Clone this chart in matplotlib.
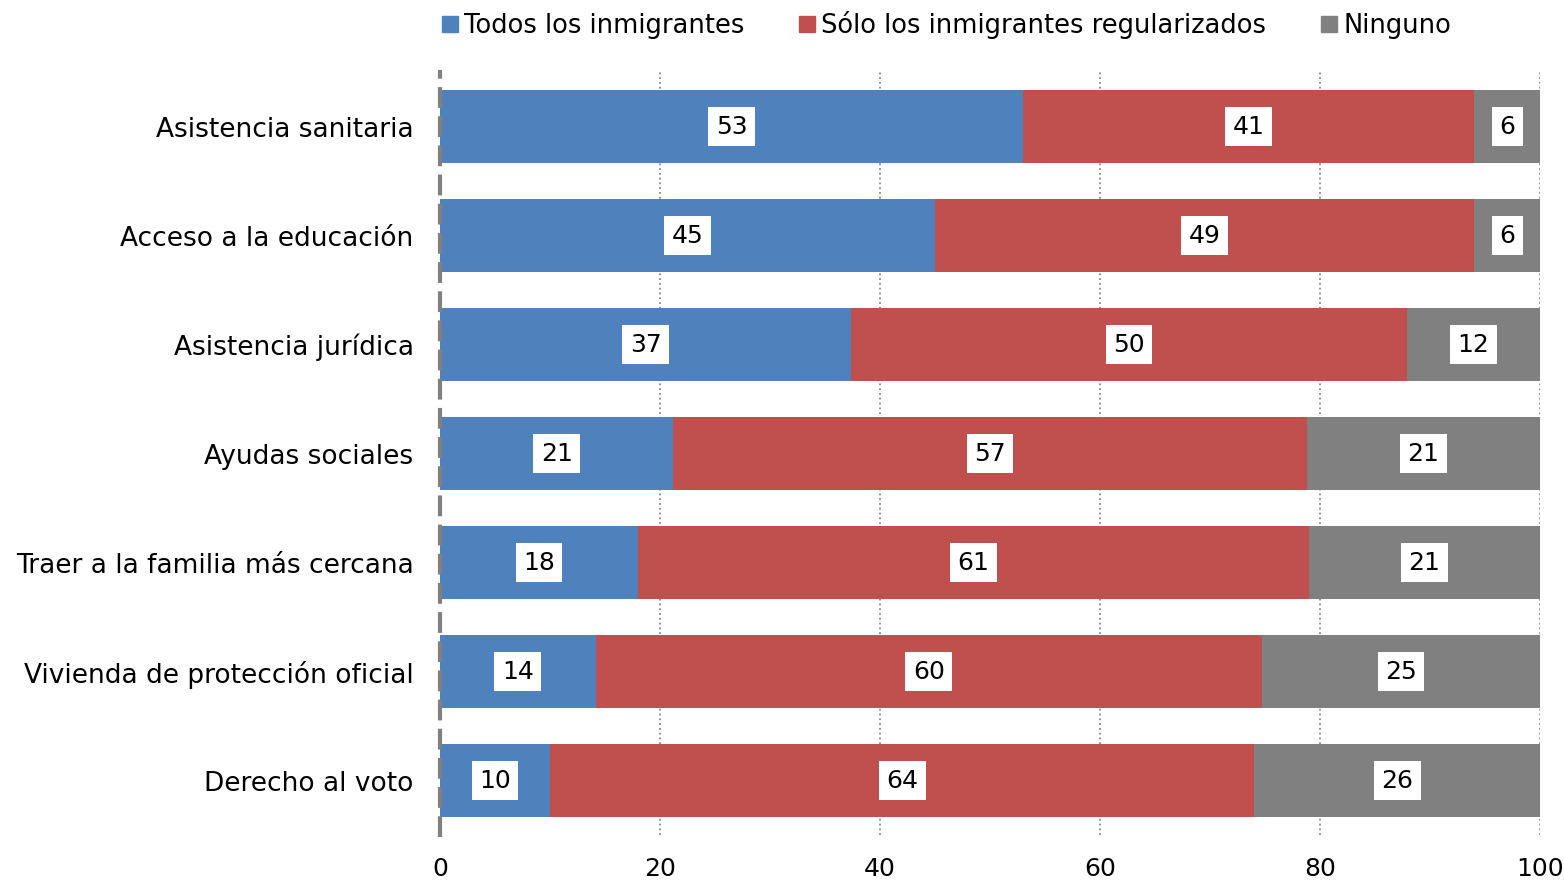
import matplotlib
matplotlib.use("Agg")
import matplotlib.pyplot as plt
import numpy as np
from matplotlib.lines import Line2D

categories = ["Asistencia sanitaria", "Acceso a la educación", "Asistencia jurídica",
              "Ayudas sociales", "Traer a la familia más cercana",
              "Vivienda de protección oficial", "Derecho al voto"]
todos = [53, 45, 37, 21, 18, 14, 10]
solo_reg = [41, 49, 50, 57, 61, 60, 64]
ninguno = [6, 6, 12, 21, 21, 25, 26]
series_names = ["Todos los inmigrantes", "Sólo los inmigrantes regularizados", "Ninguno"]
colors = ["#4F81BD", "#C0504D", "#808080"]
xticks = [0, 20, 40, 60, 80, 100]

plt.rcParams['font.family'] = ['DejaVu Sans']

fig = plt.figure(figsize=(15.64, 8.81), dpi=100)
ax = fig.add_axes([440/1564, 1-835/881, 1100/1564, (835-72)/881])

data = np.array([todos, solo_reg, ninguno], dtype=float)
totals = data.sum(axis=0)
pct = data / totals * 100
y = np.arange(len(categories))
left = np.zeros(len(categories))
for i in range(3):
    ax.barh(y, pct[i], left=left, height=0.67, color=colors[i], zorder=3)
    for j in range(len(categories)):
        ax.text(left[j] + pct[i][j]/2, y[j], str(int(data[i][j])), ha='center', va='center',
                fontsize=18, color='black', zorder=5,
                bbox=dict(boxstyle='square,pad=0.3', fc='white', ec='none'))
    left += pct[i]

ax.set_xlim(0, 100)
ax.set_ylim(len(categories)-0.5, -0.5)
ax.set_yticks(y)
ax.set_yticklabels(categories, fontsize=19)
ax.set_xticks(xticks)
ax.set_xticklabels([str(t) for t in xticks], fontsize=18)
ax.tick_params(axis='y', length=0, pad=19)
ax.tick_params(axis='x', length=0, pad=16)
for g in xticks[1:]:
    ax.axvline(g, color='#888888', linestyle=':', linewidth=1.3, zorder=1)
for s in ['top', 'right', 'bottom']:
    ax.spines[s].set_visible(False)
ax.spines['left'].set_color('#808080')
ax.spines['left'].set_linewidth(3)
ax.spines['left'].set_linestyle((0, (4, 3)))
ax.spines['left'].set_zorder(4)

handles = [Line2D([], [], marker='s', linestyle='none', markersize=12, color=c) for c in colors]
fig.legend(handles, series_names, loc='upper center', bbox_to_anchor=(0.604, 1.014), ncol=3,
           frameon=False, fontsize=18.5, handletextpad=0.1, columnspacing=2.0, handlelength=0.9)

fig.savefig("out.png", dpi=100)
